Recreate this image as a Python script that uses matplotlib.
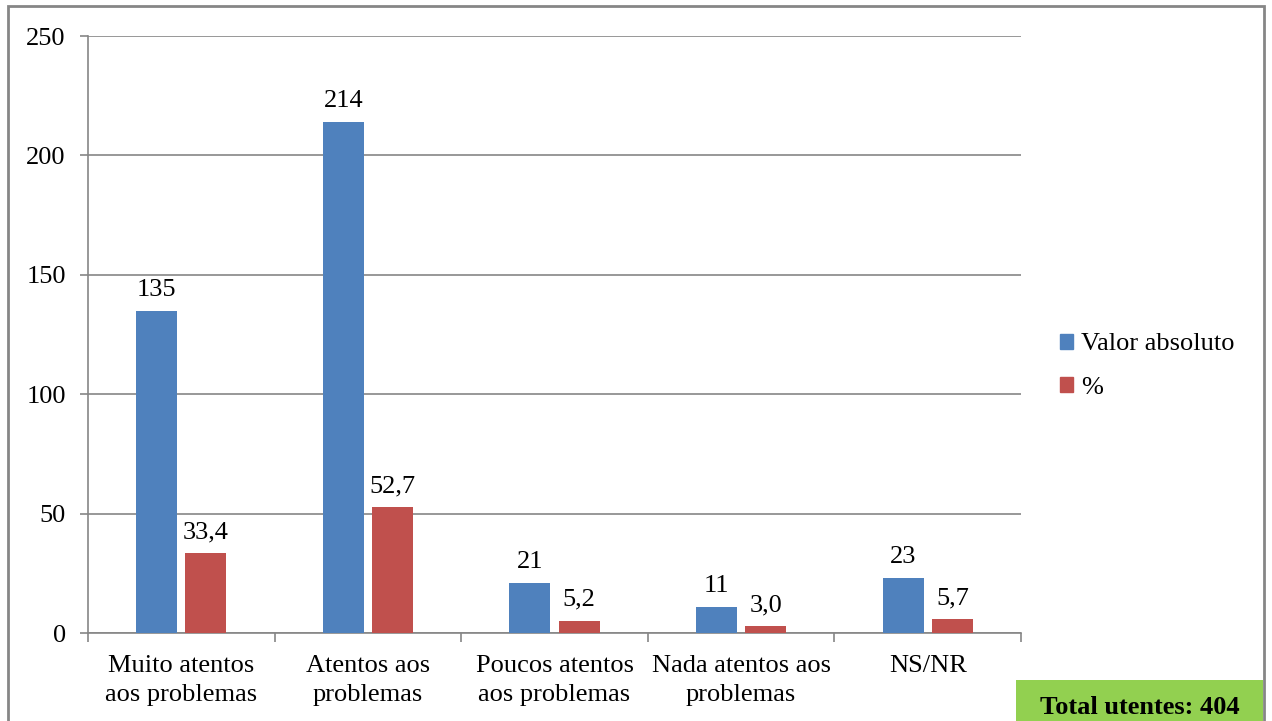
import numpy as np
import matplotlib.pyplot as plt
from matplotlib.patches import Rectangle, Patch

categories = ["Muito atentos\naos problemas", "Atentos aos\nproblemas", "Poucos atentos\naos problemas",
              "Nada atentos aos\nproblemas", "NS/NR"]
valor_absoluto = [135, 214, 21, 11, 23]
percentagem = [33.4, 52.7, 5.2, 3.0, 5.7]
total_utentes = 404

plt.rcParams['font.family'] = ['Liberation Serif', 'DejaVu Serif']
fs = 19
blue = '#4F81BD'
red = '#C0504D'
gray = '#868686'

fig = plt.figure(figsize=(12.72, 7.21), dpi=100)
ax = fig.add_axes([88/1272, 1 - 633/721, (1021 - 88)/1272, (633 - 36)/721])

x = np.arange(len(categories))
w = 0.22
b1 = ax.bar(x - 0.132, valor_absoluto, w, color=blue, zorder=3)
b2 = ax.bar(x + 0.132, percentagem, w, color=red, zorder=3)

for bar, v in zip(b1, valor_absoluto):
    ax.annotate(f"{v}", (bar.get_x() + bar.get_width()/2, v), xytext=(0, 7),
                textcoords='offset points', ha='center', va='bottom', fontsize=fs)
for bar, v in zip(b2, percentagem):
    ax.annotate(f"{v:.1f}".replace('.', ','), (bar.get_x() + bar.get_width()/2, v), xytext=(0, 7),
                textcoords='offset points', ha='center', va='bottom', fontsize=fs)

ax.set_xlim(-0.5, len(categories) - 0.5)
ax.set_ylim(0, 250)
ax.set_yticks(range(0, 251, 50))
ax.yaxis.grid(True, color=gray, linewidth=1.2, zorder=0)
ax.set_xticks(x)
ax.set_xticklabels(categories, fontsize=fs, linespacing=1.4)
ax.set_xticks(np.arange(-0.5, len(categories)), minor=True)
ax.tick_params(axis='x', which='major', length=0, pad=16)
ax.tick_params(axis='x', which='minor', length=6.5, width=1.2, color=gray)
ax.tick_params(axis='y', labelsize=fs, length=6, width=1.2, color=gray, pad=10)
for s in ['top', 'right']:
    ax.spines[s].set_visible(False)
for s in ['left', 'bottom']:
    ax.spines[s].set_color(gray)
    ax.spines[s].set_linewidth(1.2)

handles = [Patch(color=blue, label='Valor absoluto'), Patch(color=red, label='%')]
fig.legend(handles=handles, loc='center left', bbox_to_anchor=(1060/1272, 1 - 366/721),
           frameon=False, fontsize=fs, handlelength=0.5, handleheight=0.5,
           handletextpad=0.3, labelspacing=0.8, borderpad=0, borderaxespad=0)

# moldura exterior
fig.patches.append(Rectangle((8/1272, -0.1), (1264 - 8)/1272, 1.1 - 6/721, transform=fig.transFigure,
                             fill=False, edgecolor=gray, linewidth=2))
fig.patches.append(Rectangle((1016/1272, -0.1), (1263 - 1016)/1272, 0.1 + 1 - 680/721,
                             transform=fig.transFigure, facecolor='#92D050', edgecolor='none'))
fig.text(1140/1272, 1 - 708/721, f"Total utentes: {total_utentes}", ha='center', va='center',
         fontsize=fs, fontweight='bold')

fig.savefig('out.png', dpi=100)
